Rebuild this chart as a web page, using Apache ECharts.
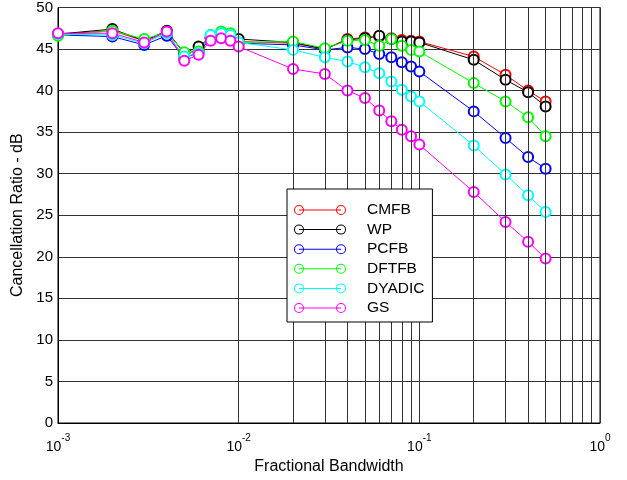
<!DOCTYPE html>
<html>
<head>
<meta charset="utf-8">
<script src="https://cdn.jsdelivr.net/npm/echarts@6/dist/echarts.min.js"></script>
<style>
html,body{margin:0;padding:0;background:#fff;}
#chart{width:627px;height:480px;}
</style>
</head>
<body>
<div id="chart"></div>
<script>
// Fractional bandwidth values (x)
const bandwidth = [0.001,0.002,0.003,0.004,0.005,0.006,0.007,0.008,0.009,0.01,
  0.02,0.03,0.04,0.05,0.06,0.07,0.08,0.09,0.1,0.2,0.3,0.4,0.5];
// Cancellation ratio (dB) per method
const cmfb   = [46.8,47.2,46.0,47.1,44.5,44.8,46.4,46.8,46.6,45.9,45.7,45.0,46.2,46.4,46.5,46.3,46.1,46.0,45.9,44.1,41.9,40.0,38.7];
const wp     = [46.8,47.4,46.0,47.2,44.5,45.3,46.4,46.9,46.7,46.2,45.8,45.0,46.1,46.3,46.6,46.2,45.9,45.9,45.8,43.7,41.3,39.8,38.1];
const pcfb   = [46.7,46.5,45.5,46.6,43.9,44.6,46.3,46.6,46.3,45.7,45.5,44.9,45.2,45.0,44.4,44.0,43.4,42.9,42.3,37.5,34.3,32.0,30.6];
const dftfb  = [46.6,47.2,46.2,47.0,44.6,44.7,46.7,47.1,46.9,45.8,45.9,45.1,46.0,46.1,45.4,46.2,45.4,44.9,44.7,40.9,38.7,36.8,34.5];
const dyadic = [46.8,46.7,45.7,46.9,44.1,44.5,46.7,46.9,46.7,45.8,44.9,44.0,43.5,42.8,42.1,41.1,40.1,39.3,38.7,33.4,29.9,27.4,25.4];
const gs     = [46.9,46.9,45.8,47.1,43.6,44.3,46.0,46.3,46.0,45.3,42.6,42.0,40.0,39.1,37.6,36.3,35.3,34.5,33.5,27.8,24.2,21.8,19.8];

const seriesNames = ['CMFB','WP','PCFB','DFTFB','DYADIC','GS'];
const seriesValues = [cmfb, wp, pcfb, dftfb, dyadic, gs];
const seriesColors = ['#ff0000','#000000','#0000ff','#00ff00','#00ffff','#ff00ff'];

// Minor log grid positions
const minorGridX = [0.002,0.003,0.004,0.005,0.006,0.007,0.008,0.009,
  0.02,0.03,0.04,0.05,0.06,0.07,0.08,0.09,
  0.2,0.3,0.4,0.5,0.6,0.7,0.8,0.9];

const FONT = "'Liberation Sans', Arial, Helvetica, sans-serif";
const GRIDC = '#333';

// legend icon: line with hollow circle at each end
const legendIcon = 'path://M0,5A5,5 0 1,1 10,5A5,5 0 1,1 0,5Z M1,5A4,4 0 1,0 9,5A4,4 0 1,0 1,5Z ' +
  'M42,5A5,5 0 1,1 52,5A5,5 0 1,1 42,5Z M43,5A4,4 0 1,0 51,5A4,4 0 1,0 43,5Z ' +
  'M5,4.5L47,4.5L47,5.5L5,5.5Z';

const series = seriesNames.map((name, i) => ({
  name: name,
  type: 'line',
  data: bandwidth.map((x, j) => [x, seriesValues[i][j]]),
  symbol: 'emptyCircle',
  symbolSize: 10,
  lineStyle: { color: seriesColors[i], width: 1 },
  itemStyle: { color: seriesColors[i], borderWidth: 1 },
  emphasis: { disabled: true },
  z: 2
}));

series.unshift({
  name: '_grid',
  type: 'line',
  data: [],
  z: 1,
  silent: true,
  markLine: {
    silent: true,
    symbol: ['none', 'none'],
    label: { show: false },
    lineStyle: { color: GRIDC, type: 'solid', width: 1 },
    emphasis: { disabled: true },
    data: minorGridX.map(v => ({ xAxis: v }))
  }
});

const chart = echarts.init(document.getElementById('chart'));
chart.setOption({
  animation: false,
  backgroundColor: '#fff',
  grid: { left: 58, right: 27, top: 7, bottom: 57, show: true, borderColor: '#000', borderWidth: 1, containLabel: false },
  legend: {
    data: seriesNames,
    orient: 'vertical',
    left: 287,
    top: 189,
    z: 100,
    zlevel: 0,
    icon: legendIcon,
    itemWidth: 52,
    itemHeight: 10,
    itemGap: 3.6,
    padding: [13, 8, 6, 7],
    backgroundColor: '#ffffff',
    borderColor: '#000',
    borderWidth: 1,
    borderRadius: 0,
    selectedMode: false,
    textStyle: { fontFamily: FONT, fontSize: 15.5, color: '#000', lineHeight: 16, padding: [0, 0, 0, 16] }
  },
  xAxis: {
    type: 'log',
    logBase: 10,
    min: 0.001,
    max: 1,
    name: 'Fractional Bandwidth',
    nameLocation: 'middle',
    nameGap: 34,
    nameTextStyle: { fontFamily: FONT, fontSize: 16, color: '#000' },
    axisLine: { show: true, lineStyle: { color: '#000', width: 1 } },
    axisTick: { show: false },
    splitLine: { show: true, lineStyle: { color: GRIDC, width: 1 } },
    axisLabel: {
      margin: 10,
      showMinLabel: true,
      showMaxLabel: true,
      formatter: function (v) {
        const e = Math.round(Math.log10(v));
        return '{b|10}{s|' + e + '}';
      },
      rich: {
        b: { fontFamily: FONT, fontSize: 14, color: '#000', padding: [7, 0, 0, 0], verticalAlign: 'bottom' },
        s: { fontFamily: FONT, fontSize: 10, color: '#000', verticalAlign: 'top' }
      }
    }
  },
  yAxis: {
    type: 'value',
    min: 0,
    max: 50,
    interval: 5,
    name: 'Cancellation Ratio - dB',
    nameLocation: 'middle',
    nameGap: 29,
    nameTextStyle: { fontFamily: FONT, fontSize: 16, color: '#000' },
    axisLine: { show: true, lineStyle: { color: '#000', width: 1 } },
    axisTick: { show: false },
    splitLine: { show: true, lineStyle: { color: GRIDC, width: 1 } },
    axisLabel: { margin: 5, fontFamily: FONT, fontSize: 15, color: '#000' }
  },
  series: series
});
</script>
</body>
</html>
